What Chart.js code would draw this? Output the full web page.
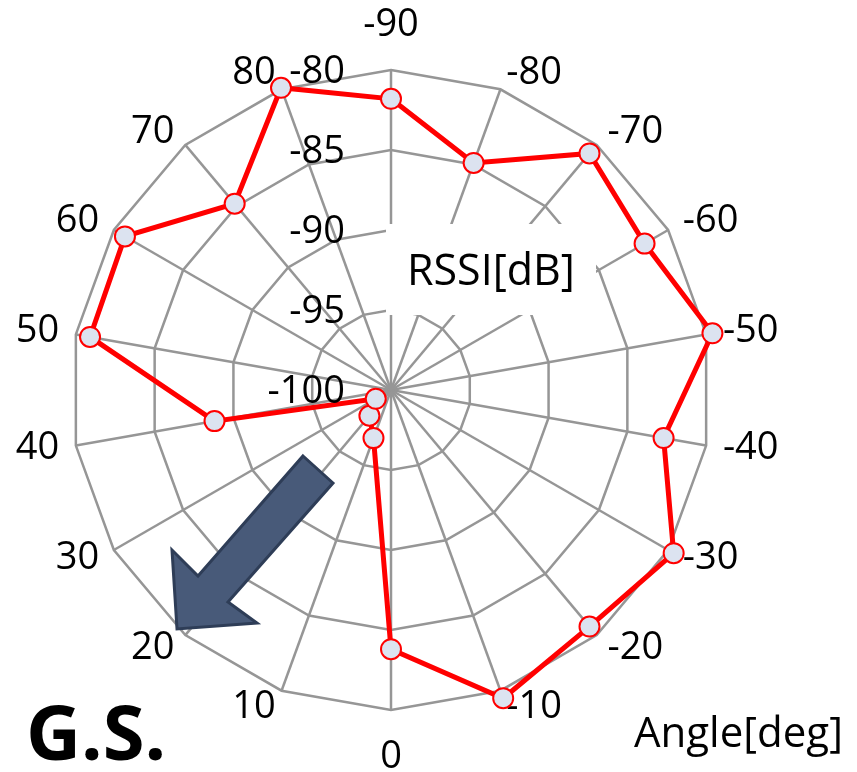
<!DOCTYPE html>
<html>
<head>
<meta charset="utf-8">
<title>RSSI radar</title>
<script src="https://cdn.jsdelivr.net/npm/chart.js@4.4.1/dist/chart.umd.min.js"></script>
<style>
  html, body { margin: 0; padding: 0; background: #fff; }
  canvas { display: block; }
</style>
</head>
<body>
<canvas id="radar" width="857" height="772"></canvas>
<script>
// antenna angle [deg], clockwise from the top spoke
const angles = ['-90', '-80', '-70', '-60', '-50', '-40', '-30', '-20', '-10',
                '0', '10', '20', '30', '40', '50', '60', '70', '80'];
// measured RSSI [dB] at each angle
const rssi = [-81.8, -84.9, -80.7, -81.7, -79.6, -82.7, -79.6, -80.7, -79.5,
              -83.8, -96.8, -97.9, -98.9, -88.8, -80.9, -80.8, -84.8, -79.9];
const rssiTicks = [-100, -95, -90, -85, -80];

const FONT = "'Open Sans', 'Noto Sans', sans-serif";

// labels, axis title and the arrow drawn on top of the radial scale
const extras = {
    id: 'extras',
    beforeDatasetsDraw(chart) {
        const ctx = chart.ctx;
        const r = chart.scales.r;
        ctx.save();

        // axis title sits in a white box over the grid
        ctx.fillStyle = '#fff';
        ctx.fillRect(386, 224, 210, 91);
        ctx.fillStyle = '#000';
        ctx.font = '43px ' + FONT;
        ctx.textAlign = 'left';
        ctx.textBaseline = 'alphabetic';
        ctx.fillText('RSSI[dB]', 407, 285);

        // angle labels round the outside
        ctx.font = '38px ' + FONT;
        ctx.textBaseline = 'middle';
        const outer = r.getDistanceFromCenterForValue(r.max) + 17;
        chart.data.labels.forEach((lab, i) => {
            const p = r.getPointPosition(i, outer);
            const dx = p.x - r.xCenter;
            let y = p.y;
            if (Math.abs(dx) < 1) {
                ctx.textAlign = 'center';
                y += p.y < r.yCenter ? -28 : 30;
            } else {
                ctx.textAlign = dx > 0 ? 'left' : 'right';
            }
            ctx.fillText(lab, p.x, y);
        });
        ctx.restore();
    },
    afterDatasetsDraw(chart) {
        const ctx = chart.ctx;
        const r = chart.scales.r;
        ctx.save();

        // value ticks, left of the top spoke
        ctx.fillStyle = '#000';
        ctx.font = '38px ' + FONT;
        ctx.textAlign = 'right';
        ctx.textBaseline = 'middle';
        r.ticks.forEach(t => {
            const y = r.yCenter - r.getDistanceFromCenterForValue(t.value) + 2;
            ctx.fillText(String(t.value), r.xCenter - 46, y);
        });

        // arrow
        ctx.beginPath();
        ctx.moveTo(303, 456);
        ctx.lineTo(333, 483);
        ctx.lineTo(228, 602);
        ctx.lineTo(257, 623);
        ctx.lineTo(177, 629);
        ctx.lineTo(172, 550);
        ctx.lineTo(198, 576);
        ctx.closePath();
        ctx.fillStyle = '#485a79';
        ctx.fill();
        ctx.lineWidth = 3;
        ctx.strokeStyle = '#2e3d57';
        ctx.lineJoin = 'miter';
        ctx.stroke();

        ctx.fillStyle = '#000';
        ctx.textAlign = 'left';
        ctx.textBaseline = 'alphabetic';
        ctx.font = 'bold 76px ' + FONT;
        ctx.fillText('G.S.', 26, 760);

        ctx.font = '42px ' + FONT;
        ctx.fillText('Angle[deg]', 634, 747);
        ctx.restore();
    }
};

new Chart(document.getElementById('radar'), {
    type: 'radar',
    data: {
        labels: angles,
        datasets: [{
            data: rssi,
            borderColor: '#ff0000',
            borderWidth: 5,
            fill: false,
            tension: 0,
            pointRadius: 10,
            pointBorderWidth: 2,
            pointBorderColor: '#ff0000',
            pointBackgroundColor: '#dce3f0'
        }]
    },
    options: {
        responsive: false,
        animation: false,
        devicePixelRatio: 1,
        layout: { padding: { left: 71, right: 146, top: 70, bottom: 62 } },
        plugins: {
            legend: { display: false },
            tooltip: { enabled: false }
        },
        scales: {
            r: {
                min: -100,
                max: -80,
                afterBuildTicks: s => { s.ticks = rssiTicks.map(v => ({ value: v })); },
                ticks: { display: false },
                pointLabels: { display: false },
                grid: { circular: false, color: '#969696', lineWidth: 2.5 },
                angleLines: { color: '#969696', lineWidth: 2.5 }
            }
        }
    },
    plugins: [extras]
});
</script>
</body>
</html>
